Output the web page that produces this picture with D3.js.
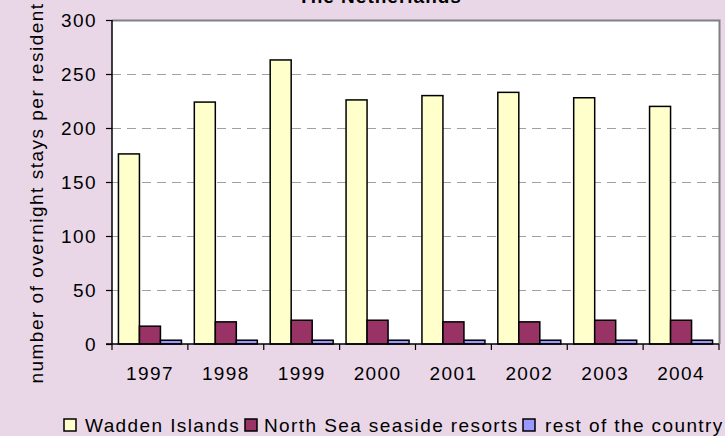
<!DOCTYPE html>
<html><head><meta charset="utf-8">
<script src="https://cdn.jsdelivr.net/npm/d3@7"></script>
<style>body{margin:0;background:#E9D7E8;} svg{display:block;font-family:"Liberation Sans",Arial,sans-serif;}</style>
</head><body>
<svg id="c" width="725" height="436"></svg>
<script>
const years = ["1997","1998","1999","2000","2001","2002","2003","2004"];
const seriesNames = ["Wadden Islands","North Sea seaside resorts","rest of the country"];
const wadden = [176,224,263,226,230,233,228,220];
const northSea = [16.5,20.5,22,22,20.5,20.5,22,22];
const restCountry = [3.5,3.5,3.5,3.5,3.5,3.5,3.5,3.5];
const yTicks = [0,50,100,150,200,250,300];
const colors = ["#FFFFCC","#993366","#9999FF"];
const title = "The Netherlands";
const yLabel = "number of overnight stays per resident";

const FS = 19, LS = 1.4;
const svg = d3.select("#c");
const L=112,R=719,T=20,B=344;
const x = d3.scaleBand().domain(years).range([L,R]).paddingInner(0).paddingOuter(0);
const y = d3.scaleLinear().domain([0,300]).range([B,T]);
const groupW = 63;
const xs = d3.scaleBand().domain(seriesNames).range([0,groupW]).padding(0);
const data = [wadden,northSea,restCountry];

svg.append("rect").attr("x",L).attr("y",T).attr("width",R-L).attr("height",B-T).attr("fill","#fff");
svg.append("g").selectAll("line").data(yTicks.filter(d=>d>0&&d<300)).join("line")
  .attr("x1",L).attr("x2",R).attr("y1",d=>y(d)+0.5).attr("y2",d=>y(d)+0.5)
  .attr("stroke","#A0A0A0").attr("stroke-dasharray","9,6");
svg.append("path").attr("d",`M${L},${T+0.5}H${R+0.5}V${B}`).attr("fill","none").attr("stroke","#808080").attr("stroke-width",2);

const g = svg.append("g");
data.forEach((arr,si)=>{
  g.append("g").selectAll("rect").data(arr).join("rect")
    .attr("x",(d,i)=>x(years[i])+(x.bandwidth()-groupW)/2+xs(seriesNames[si]))
    .attr("y",d=>y(d))
    .attr("width",xs.bandwidth())
    .attr("height",d=>B-y(d))
    .attr("fill",colors[si]).attr("stroke","#000").attr("stroke-width",1.5);
});

const ya = svg.append("g").attr("transform",`translate(${L},0)`)
  .call(d3.axisLeft(y).tickValues(yTicks).tickSize(6).tickPadding(9));
ya.selectAll("text").attr("font-size",FS).attr("letter-spacing",LS).attr("fill","#000").attr("font-family","Liberation Sans, Arial, sans-serif");
ya.select(".domain").attr("stroke","#000").attr("stroke-width",1.5).attr("d",`M0,${T}V${B}`);
ya.selectAll(".tick line").attr("stroke","#000").attr("stroke-width",1.2);

const xa = svg.append("g").attr("transform",`translate(0,${B})`)
  .call(d3.axisBottom(x).tickSize(0).tickPadding(23));
xa.selectAll("text").attr("font-size",FS).attr("letter-spacing",LS).attr("fill","#000").attr("font-family","Liberation Sans, Arial, sans-serif");
xa.select(".domain").attr("stroke","#000").attr("stroke-width",1.5).attr("d",`M${L-6},0H${R}`);
xa.append("g").selectAll("line").data(years.concat(["end"])).join("line")
  .attr("x1",(d,i)=>L+i*x.bandwidth()).attr("x2",(d,i)=>L+i*x.bandwidth())
  .attr("y1",0).attr("y2",6).attr("stroke","#000").attr("stroke-width",1.2);

svg.append("text").attr("x",380).attr("y",3).attr("text-anchor","middle")
  .attr("font-size",FS).attr("letter-spacing",1.0).attr("font-weight","bold").text(title);

svg.append("text").attr("transform","translate(43,193) rotate(-90)").attr("text-anchor","middle")
  .attr("font-size",FS).attr("letter-spacing",1.5).attr("fill","#000").text(yLabel);

const legBox = [64,245,523];
const legText = [85,264,545];
const leg = svg.append("g");
seriesNames.forEach((n,i)=>{
  leg.append("rect").attr("x",legBox[i]).attr("y",419).attr("width",12).attr("height",12)
    .attr("fill",colors[i]).attr("stroke","#000").attr("stroke-width",1.5);
  leg.append("text").attr("x",legText[i]).attr("y",432).attr("font-size",FS).attr("letter-spacing",LS).text(n);
});
</script>
</body></html>
